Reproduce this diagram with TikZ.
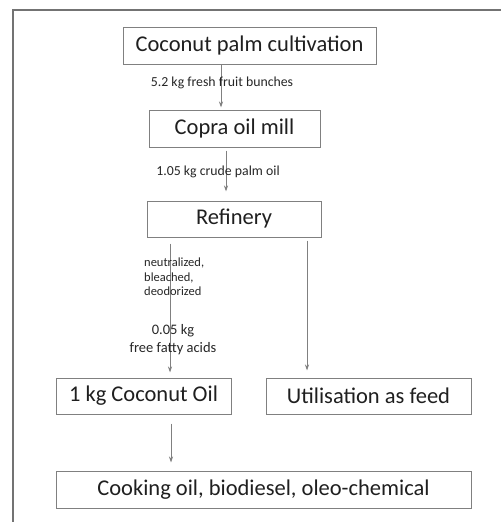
\documentclass[tikz,border=0pt]{standalone}
\usepackage{fontspec}
\setmainfont{Carlito}
\usetikzlibrary{positioning,arrows.meta}

\begin{document}
\begin{tikzpicture}[x=1pt, y=-1pt,
        box/.style={draw=black!50, line width=1pt, rectangle, inner sep=0pt, text=black!88, font=\fontsize{22.5}{26}\selectfont},
        flow/.style={-{Stealth[length=6pt,width=4pt]}, draw=black!50, line width=1pt},
        note/.style={inner sep=0pt, text=black!85, font=\fontsize{13.8}{16}\selectfont}]
        \useasboundingbox (0,0) rectangle (501,522);
        \draw [black!55, line width=1.3pt] (13,522) -- (13,10) -- (501,10);
        \node [box, minimum width=253, minimum height=37] (Cult) at (249.5,45.5) {Coconut palm cultivation};
        \node [box, minimum width=171, minimum height=37] (Mill) at (234.5,128.5) {Copra oil mill};
        \node [box, minimum width=174, minimum height=36] (Refinery) at (234,219) {Refinery};
        \node [box, minimum width=175, minimum height=36] (Oil) at (143.5,396) {1 kg Coconut Oil};
        \node [box, minimum width=205, minimum height=36] (Feed) at (368.5,396) {Utilisation as feed};
        \node [box, minimum width=415, minimum height=37] (Uses) at (263.5,489.5) {Cooking oil, biodiesel, oleo-chemical};
        \draw [flow, shorten >=2pt] (221,0 |- Cult.south) -- (221,0 |- Mill.north);
        \draw [flow, shorten <=3pt, shorten >=9pt] (226,0 |- Mill.south) -- (226,0 |- Refinery.north);
        \draw [flow, shorten <=6pt, shorten >=5pt] (170,0 |- Refinery.south) -- (170,0 |- Oil.north);
        \draw [flow, shorten <=3pt, shorten >=7pt] (307,0 |- Refinery.south) -- (307,0 |- Feed.north);
        \draw [flow, shorten <=9pt, shorten >=8pt] (171,0 |- Oil.south) -- (171,0 |- Uses.north);
        \node [note] (Bunches) at (222,83) {5.2 kg fresh fruit bunches};
        \node [note] (Crude) at (218,172) {1.05 kg crude palm oil};
        \node [note, anchor=north west, align=left, font=\fontsize{12.5}{14.5}\selectfont] (Steps) at (144,258) {neutralized,\\bleached,\\deodorized};
        \node [note, align=center, font=\fontsize{14.5}{18}\selectfont] (Acids) at (173,340) {0.05 kg\\free fatty acids};
\end{tikzpicture}
\end{document}
